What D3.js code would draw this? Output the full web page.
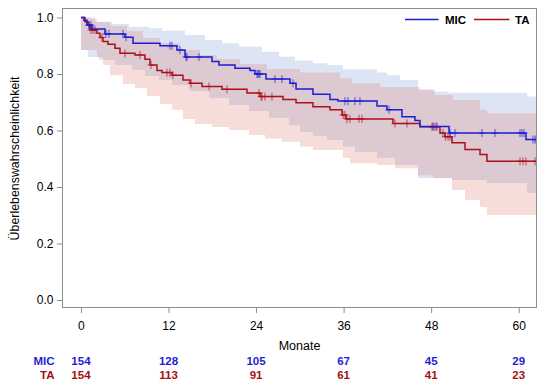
<!DOCTYPE html>
<html>
<head>
<meta charset="utf-8">
<script src="https://cdn.jsdelivr.net/npm/d3@7"></script>
<style>
  html, body { margin: 0; padding: 0; background: #fff; }
  svg text { font-family: "Liberation Sans", Arial, sans-serif; }
</style>
</head>
<body>
<svg id="chart" width="546" height="390"></svg>
<script>
// ---------- data (months, survival probability) ----------
const groups = ["MIC", "TA"];

// Kaplan-Meier steps: [start time, survival]
const micSteps = [[0,1.0],[0.41,0.99],[0.82,0.973],[1.51,0.959],[3.29,0.942],[6.03,0.93],[7.13,0.909],
  [10.83,0.90],[13.16,0.885],[14.26,0.86],[17.96,0.844],[18.92,0.832],[21.11,0.82],[23.17,0.812],
  [23.85,0.80],[25.36,0.782],[28.65,0.767],[29.48,0.747],[31.80,0.728],[34.13,0.710],[35.23,0.704],
  [40.58,0.687],[41.94,0.673],[44.00,0.649],[45.78,0.635],[46.47,0.614],[50.45,0.591],[61.00,0.568]];
const taSteps = [[0,1.0],[0.55,0.985],[0.96,0.973],[1.23,0.956],[2.19,0.944],[2.60,0.929],[3.02,0.915],
  [3.70,0.905],[4.66,0.891],[5.35,0.873],[7.40,0.867],[8.77,0.852],[9.46,0.832],[10.42,0.812],
  [11.10,0.805],[12.47,0.796],[13.98,0.779],[14.94,0.767],[16.59,0.756],[19.33,0.746],[22.76,0.733],
  [24.54,0.72],[27.69,0.71],[29.48,0.698],[31.80,0.684],[34.13,0.673],[35.78,0.655],[36.33,0.641],
  [42.77,0.625],[46.47,0.613],[49.21,0.591],[49.90,0.578],[50.86,0.557],[52.64,0.533],[54.70,0.515],
  [55.65,0.491]];
const lastTime = 62.4;

// censored observations (months)
const micCensor = [1.10,1.37,3.43,3.84,5.76,6.17,12.20,12.47,13.57,14.40,14.53,16.18,24.13,24.26,24.40,
  24.54,26.59,27.55,29.06,36.19,36.60,37.56,38.24,42.22,48.25,48.80,50.60,51.27,54.97,56.75,60.18,
  60.45,60.73,61.96,62.23,62.40];
const taCensor = [1.10,1.37,1.64,1.92,2.88,6.03,8.09,9.60,11.79,12.20,12.60,15.10,17.55,20.01,24.40,
  24.70,24.81,25.22,26.18,35.92,36.19,36.46,36.87,38.11,38.52,43.04,44.69,48.11,48.39,48.66,49.62,
  49.95,50.31,50.58,60.18,60.59,61.00,62.23];

// confidence bands: [start time, bound]
const micUpper = [[0,1.0],[1.92,0.985],[4.25,0.977],[6.58,0.967],[9.32,0.962],[11.10,0.953],[14.26,0.938],
  [17.00,0.920],[19.33,0.909],[21.66,0.897],[24.81,0.879],[27.14,0.861],[29.34,0.848],[31.80,0.838],
  [33.72,0.832],[35.92,0.817],[40.58,0.805],[41.94,0.796],[43.73,0.779],[46.20,0.746],[48.25,0.737],
  [50.31,0.734],[61.14,0.720]];
const micLower = [[0,0.885],[0.96,0.860],[2.47,0.850],[4.66,0.832],[6.99,0.814],[8.77,0.793],[10.69,0.779],
  [12.47,0.761],[14.80,0.740],[17.55,0.715],[20.29,0.690],[23.03,0.669],[25.77,0.644],[28.51,0.619],
  [30.02,0.596],[31.80,0.581],[33.72,0.566],[35.92,0.543],[37.56,0.524],[40.58,0.503],[43.04,0.478],
  [46.20,0.432],[50.86,0.425],[55.65,0.414],[61.14,0.379]];
const taUpper = [[0,1.0],[1.23,0.995],[2.19,0.984],[3.98,0.970],[6.31,0.952],[8.50,0.927],[10.83,0.910],
  [13.57,0.885],[16.31,0.867],[18.64,0.853],[21.80,0.835],[25.50,0.818],[30.02,0.805],[35.50,0.785],
  [37.15,0.767],[40.99,0.754],[46.47,0.743],[48.53,0.726],[50.99,0.708],[54.70,0.673],[55.65,0.661]];
const taLower = [[0,0.885],[2.19,0.860],[3.02,0.832],[3.98,0.796],[5.76,0.765],[7.40,0.750],[9.05,0.722],
  [10.83,0.694],[12.47,0.673],[13.98,0.641],[15.63,0.623],[17.96,0.612],[20.29,0.602],[23.03,0.584],
  [25.22,0.572],[27.55,0.560],[30.02,0.543],[31.80,0.531],[35.92,0.503],[36.87,0.484],[40.58,0.478],
  [43.04,0.466],[46.20,0.442],[48.25,0.431],[50.86,0.389],[52.64,0.354],[54.70,0.329],[55.65,0.301]];

// axis ticks and number at risk
const xTicks = [0, 12, 24, 36, 48, 60];
const yTicks = [0, 0.2, 0.4, 0.6, 0.8, 1.0];
const micRisk = [154, 128, 105, 67, 45, 29];
const taRisk = [154, 113, 91, 61, 41, 23];

// ---------- styles ----------
const blue = "#1d1dd2", red = "#ad0f1c";
const blueText = "#1f1fd0", redText = "#a50f15";
const blueBand = "rgb(119,147,211)", redBand = "rgb(223,119,103)";

// ---------- layout ----------
const svg = d3.select("#chart");
const L = 62, R = 537, T = 8, B = 308;
const x = d3.scaleLinear().domain([-2.6, 62.51]).range([L, R]);
const y = d3.scaleLinear().domain([-0.0283, 1.0336]).range([B, T]);

svg.append("defs").append("clipPath").attr("id", "clip")
  .append("rect").attr("x", L).attr("y", T).attr("width", R - L).attr("height", B - T);

function stepVal(steps, t) {
  let v = steps[0][1];
  for (const s of steps) { if (s[0] <= t + 1e-9) v = s[1]; else break; }
  return v;
}
function bandData(up, lo) {
  const ts = Array.from(new Set(up.map(d => d[0]).concat(lo.map(d => d[0])))).sort((a, b) => a - b);
  ts.push(lastTime);
  return ts.map(t => ({ t, u: stepVal(up, t), l: stepVal(lo, t) }));
}

const plot = svg.append("g").attr("clip-path", "url(#clip)");

const area = d3.area().curve(d3.curveStepAfter)
  .x(d => x(d.t)).y0(d => y(d.l)).y1(d => y(d.u));

plot.append("path").datum(bandData(micUpper, micLower))
  .attr("d", area).attr("fill", blueBand).attr("fill-opacity", 0.25);
plot.append("path").datum(bandData(taUpper, taLower))
  .attr("d", area).attr("fill", redBand).attr("fill-opacity", 0.25);

const line = d3.line().curve(d3.curveStepAfter).x(d => x(d[0])).y(d => y(d[1]));
function drawCurve(steps, censor, color) {
  const pts = steps.concat([[lastTime, steps[steps.length - 1][1]]]);
  plot.append("path").datum(pts).attr("d", line)
    .attr("fill", "none").attr("stroke", color).attr("stroke-width", 1.5);
  const g = plot.append("g").attr("stroke", color).attr("stroke-width", 1).attr("stroke-opacity", 0.7);
  censor.forEach(t => {
    const cx = x(t), cy = y(stepVal(steps, t));
    g.append("line").attr("x1", cx).attr("x2", cx).attr("y1", cy - 4).attr("y2", cy + 4);
    g.append("line").attr("x1", cx - 3.5).attr("x2", cx + 3.5).attr("y1", cy).attr("y2", cy);
  });
}
drawCurve(taSteps, taCensor, red);
drawCurve(micSteps, micCensor, blue);

// frame
svg.append("rect").attr("x", L + 0.5).attr("y", T + 0.5).attr("width", R - L - 1).attr("height", B - T - 1)
  .attr("fill", "none").attr("stroke", "#8c8c8c").attr("stroke-width", 1);

// axes
const yAxis = svg.append("g").attr("transform", `translate(${L},0)`)
  .call(d3.axisLeft(y).tickValues(yTicks).tickFormat(d3.format(".1f")).tickSize(5).tickPadding(3.5));
const xAxis = svg.append("g").attr("transform", `translate(0,${B})`)
  .call(d3.axisBottom(x).tickValues(xTicks).tickFormat(d3.format("d")).tickSize(5).tickPadding(8));
[yAxis, xAxis].forEach(a => {
  a.select(".domain").remove();
  a.selectAll(".tick line").attr("stroke", "#8c8c8c");
  a.selectAll(".tick text").attr("fill", "#000").style("font-size", "12px")
    .style("font-family", '"Liberation Sans", Arial, sans-serif');
});

// axis titles
svg.append("text").attr("transform", "translate(19,158.5) rotate(-90)")
  .attr("text-anchor", "middle").attr("fill", "#000").style("font-size", "12.4px")
  .text("Überlebenswahrscheinlichkeit");
svg.append("text").attr("x", (L + R) / 2).attr("y", 349.5)
  .attr("text-anchor", "middle").attr("fill", "#000").style("font-size", "12.5px")
  .text("Monate");

// legend
const leg = svg.append("g");
leg.append("line").attr("x1", 405).attr("x2", 438.5).attr("y1", 19.5).attr("y2", 19.5)
  .attr("stroke", blue).attr("stroke-width", 1.5);
leg.append("text").attr("x", 445).attr("y", 23.5).attr("fill", "#000")
  .style("font-size", "11.5px").style("font-weight", "bold").text(groups[0]);
leg.append("line").attr("x1", 474).attr("x2", 509.5).attr("y1", 19.5).attr("y2", 19.5)
  .attr("stroke", red).attr("stroke-width", 1.5);
leg.append("text").attr("x", 515).attr("y", 23.5).attr("fill", "#000")
  .style("font-size", "11.5px").style("font-weight", "bold").text(groups[1]);

// number at risk table
const risk = svg.append("g").style("font-size", "11.5px").style("font-weight", "bold");
[[micRisk, blueText, 365, groups[0]], [taRisk, redText, 378.5, groups[1]]].forEach(([vals, col, yy, name]) => {
  risk.append("text").attr("x", 54.5).attr("y", yy).attr("text-anchor", "end").attr("fill", col).text(name);
  risk.selectAll(null).data(xTicks).enter().append("text")
    .attr("x", d => x(d)).attr("y", yy).attr("text-anchor", "middle").attr("fill", col)
    .text((d, i) => vals[i]);
});
</script>
</body>
</html>
